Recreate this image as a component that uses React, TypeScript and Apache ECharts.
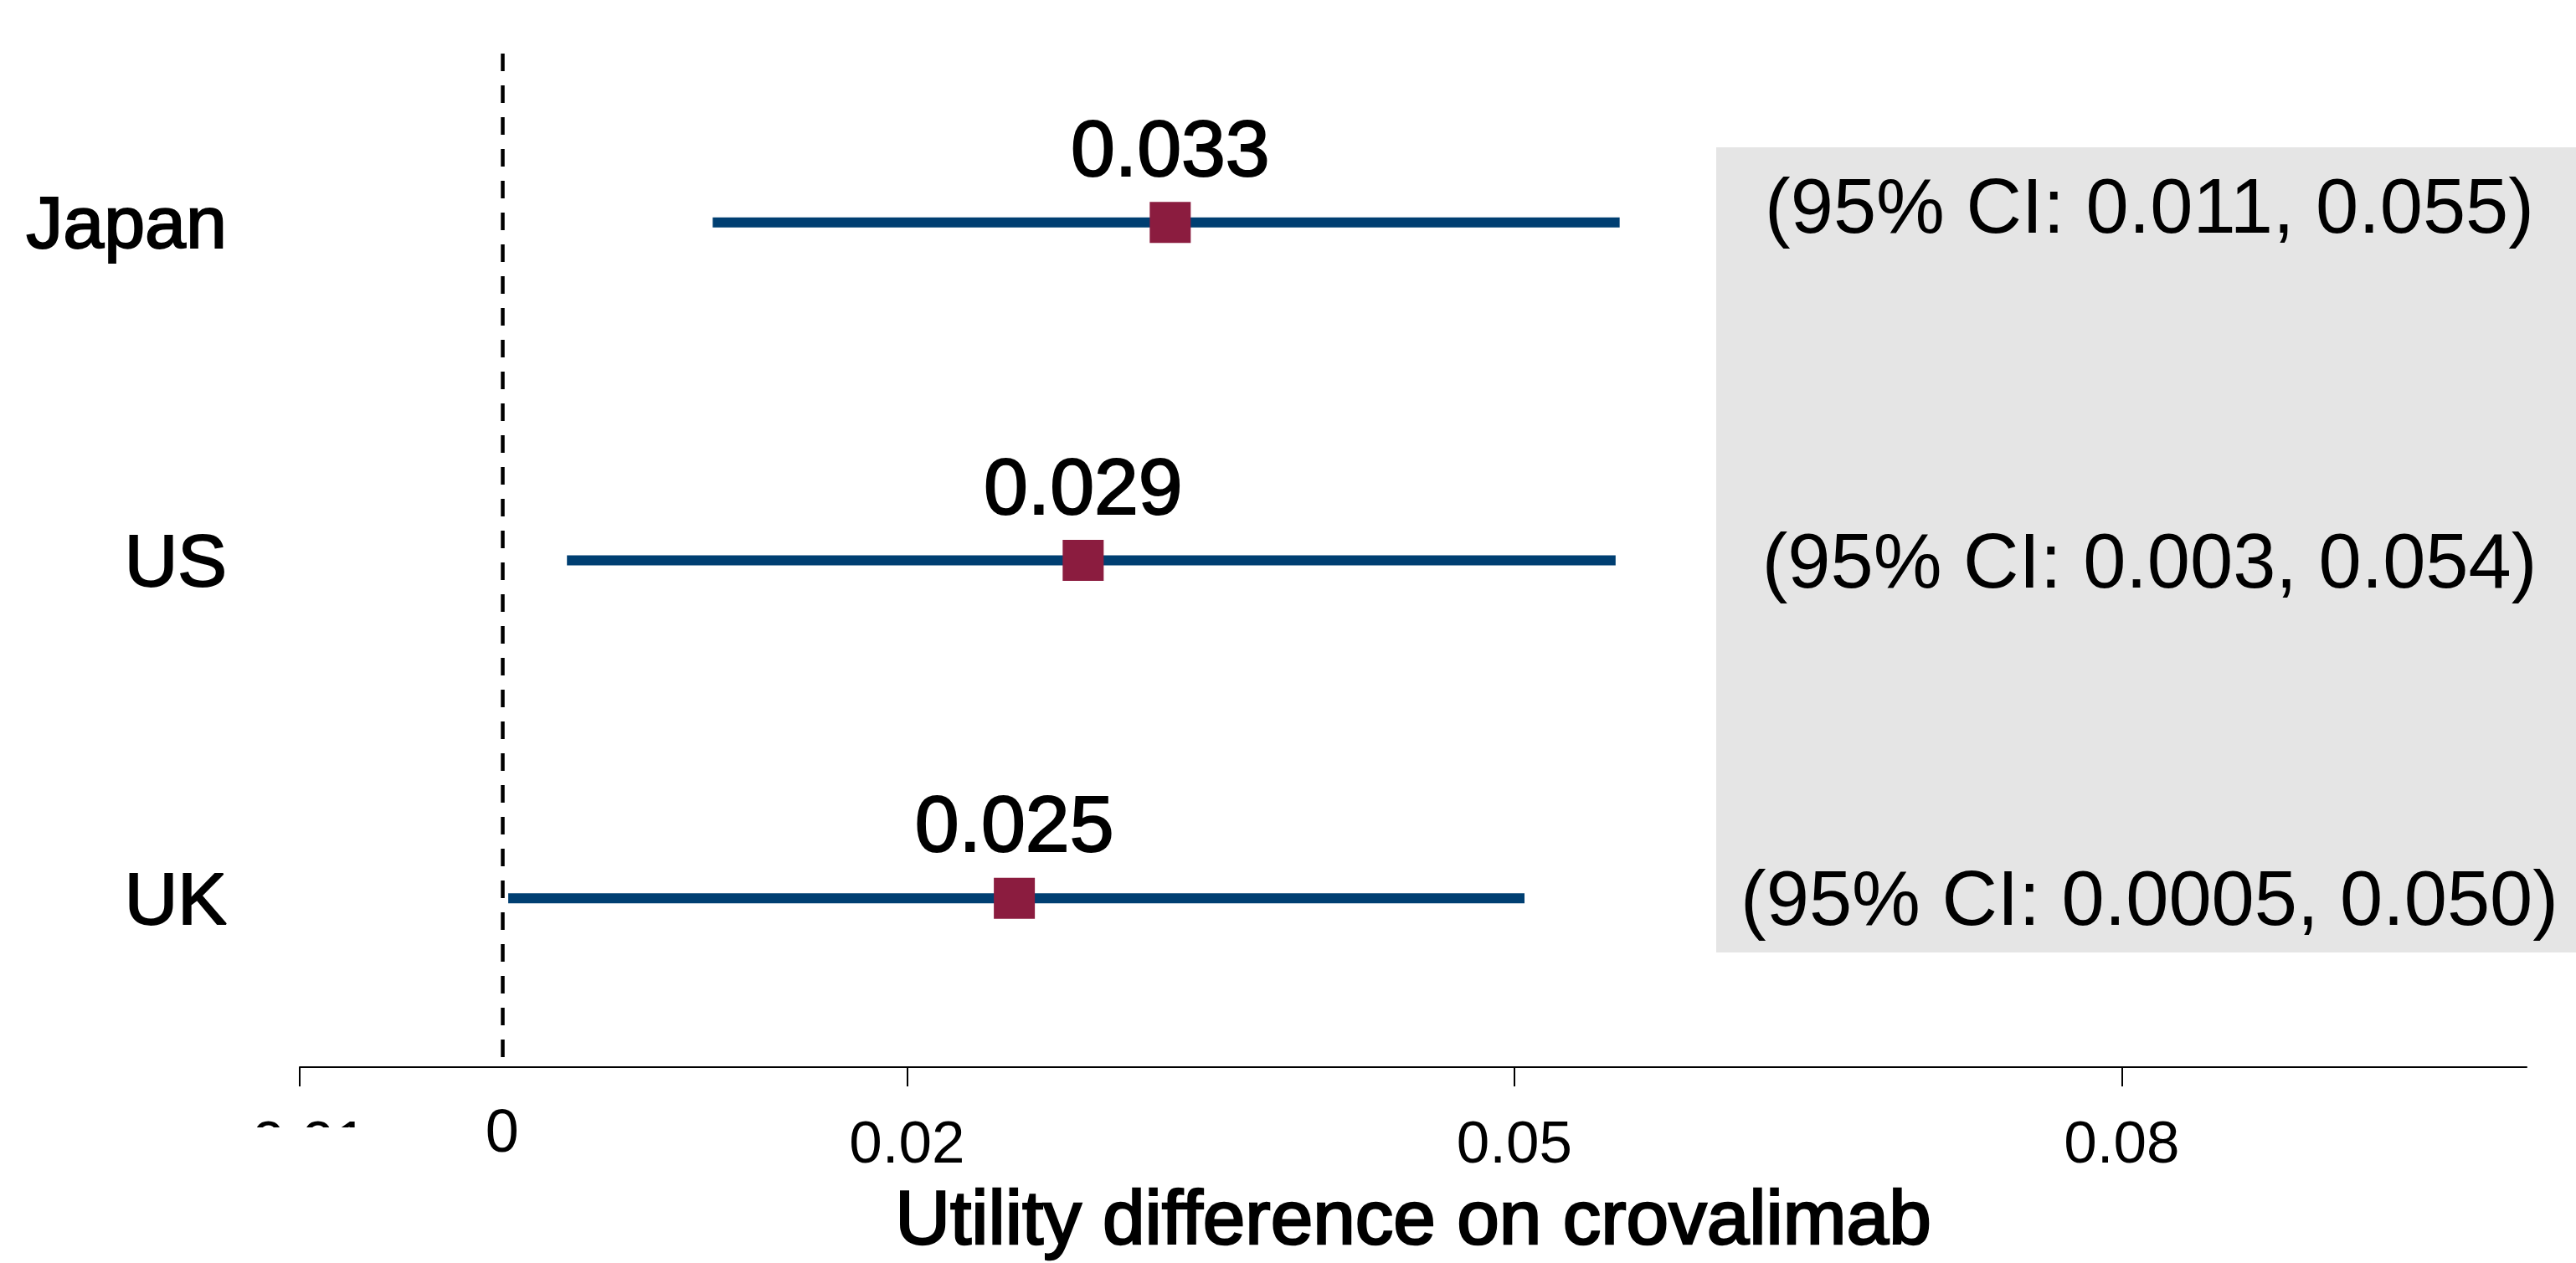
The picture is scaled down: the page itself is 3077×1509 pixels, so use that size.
import React, { useEffect, useRef } from 'react';
import * as echarts from 'echarts';

// ---- data ----
const countries = ['Japan', 'US', 'UK'];
const estimates = [0.033, 0.0287, 0.0253];
const ciLower = [0.0104, 0.0032, 0.0003];
const ciUpper = [0.0552, 0.055, 0.0505];
const ciLowerText = ['0.011', '0.003', '0.0005'];
const ciUpperText = ['0.055', '0.054', '0.050'];
const xTicks = [-0.01, 0.02, 0.05, 0.08];
const xMin = -0.01;
const xMax = 0.1;
const refValue = 0;
const refLabel = '0';
const axisTitle = 'Utility difference on crovalimab';

const FONT = '"Liberation Sans", Arial, Helvetica, sans-serif';
const W = 3077;
const H = 1509;
const GRID = { left: 358, right: 59, top: 64, bottom: 234 };
const AXIS_Y = H - GRID.bottom;

function boxEl() {
  return {
    id: 'ciBox',
    type: 'rect',
    left: 2050,
    top: 176,
    z: 0,
    shape: { width: W - 2050, height: 962 },
    style: { fill: '#E5E5E5' },
    silent: true,
  };
}

function buildOption(): any {
  return {
    animation: false,
    backgroundColor: '#ffffff',
    grid: [
      { ...GRID, outerBoundsMode: 'none', containLabel: false },
      { left: 2050, right: 0, top: GRID.top, bottom: GRID.bottom, outerBoundsMode: 'none', containLabel: false },
    ],
    xAxis: [
      {
        type: 'value',
        gridIndex: 0,
        min: xMin,
        max: xMax,
        axisLine: { show: true, onZero: false, lineStyle: { color: '#000', width: 2 } },
        axisTick: { show: true, customValues: xTicks, length: 23, inside: false, lineStyle: { color: '#000', width: 2 } },
        axisLabel: {
          show: true,
          customValues: xTicks,
          margin: 54,
          fontSize: 71,
          color: '#000',
          fontFamily: FONT,
          hideOverlap: false,
          formatter: (v: number) => String(+v.toFixed(4)),
        },
        splitLine: { show: false },
        name: axisTitle,
        nameLocation: 'middle',
        nameGap: 134,
        nameTextStyle: {
          fontSize: 91,
          color: '#000',
          fontFamily: FONT,
          textBorderColor: '#000',
          textBorderWidth: 2.5,
        },
      },
      { type: 'value', gridIndex: 1, min: 0, max: 1, show: false },
    ],
    yAxis: [
      {
        type: 'category',
        gridIndex: 0,
        data: countries,
        inverse: true,
        axisLine: { show: false },
        axisTick: { show: false },
        splitLine: { show: false },
        axisLabel: {
          margin: 87,
          fontSize: 88,
          color: '#000',
          fontFamily: FONT,
          textBorderColor: '#000',
          textBorderWidth: 2,
        },
      },
      { type: 'category', gridIndex: 1, data: countries, inverse: true, show: false },
    ],
    series: [
      {
        type: 'custom',
        name: 'CI',
        xAxisIndex: 0,
        yAxisIndex: 0,
        z: 3,
        data: countries.map((_, i) => [ciLower[i], ciUpper[i], i]),
        encode: { x: [0, 1], y: 2 },
        renderItem: (params: any, api: any) => {
          const s = api.coord([api.value(0), api.value(2)]);
          const e = api.coord([api.value(1), api.value(2)]);
          return {
            type: 'line',
            shape: { x1: s[0], y1: s[1], x2: e[0], y2: e[1] },
            style: { stroke: '#003F72', lineWidth: 12, lineCap: 'butt' },
          };
        },
      },
      {
        type: 'scatter',
        name: 'Estimate',
        xAxisIndex: 0,
        yAxisIndex: 0,
        z: 4,
        symbol: 'rect',
        symbolSize: 49,
        itemStyle: { color: '#8B1C3F', opacity: 1 },
        data: estimates.map((v, i) => [v, i]),
        label: {
          show: true,
          position: 'top',
          distance: 17,
          fontSize: 95,
          color: '#000',
          fontFamily: FONT,
          textBorderColor: '#000',
          textBorderWidth: 2,
          formatter: (p: any) => p.value[0].toFixed(3),
        },
        markLine: {
          silent: true,
          symbol: ['none', 'none'],
          label: { show: false },
          lineStyle: { color: '#000', width: 4.5, type: [21, 17], opacity: 1 },
          data: [{ xAxis: refValue }],
          z: 2,
        },
      },
      {
        type: 'scatter',
        name: 'CI text',
        xAxisIndex: 1,
        yAxisIndex: 1,
        z: 4,
        symbolSize: 0,
        itemStyle: { color: 'transparent', opacity: 1 },
        data: countries.map((_, i) => ({
          value: [0.5, i],
          label: { offset: i === 0 ? [4, -20] : [4, 0] },
        })),
        label: {
          show: true,
          position: 'inside',
          fontSize: 92,
          color: '#000000',
          opacity: 1,
          textBorderWidth: 0,
          fontFamily: FONT,
          formatter: (p: any) => `(95% CI: ${ciLowerText[p.dataIndex]}, ${ciUpperText[p.dataIndex]})`,
        },
      },
    ],
    graphic: { elements: [boxEl()] },
  };
}

export default function App() {
  const ref = useRef<HTMLDivElement>(null);
  useEffect(() => {
    if (!ref.current) return;
    const chart = echarts.init(ref.current, undefined, { renderer: 'svg', width: W, height: H });
    chart.setOption(buildOption());
    const x0 = chart.convertToPixel({ xAxisIndex: 0 }, refValue) as number;
    const xm = chart.convertToPixel({ xAxisIndex: 0 }, xTicks[0]) as number;
    chart.setOption({
      graphic: {
        elements: [
          boxEl(),
          {
            id: 'labelCover',
            type: 'rect',
            x: xm - 90,
            y: AXIS_Y + 72,
            z: 100,
            shape: { width: 180, height: 70 },
            style: { fill: '#ffffff' },
            silent: true,
          },
          {
            id: 'zeroLabel',
            type: 'text',
            x: x0,
            y: AXIS_Y + 76,
            z: 101,
            style: {
              text: refLabel,
              fontSize: 72,
              fontFamily: FONT,
              fill: '#000',
              align: 'center',
              verticalAlign: 'middle',
            },
            silent: true,
          },
        ],
      },
    });
    return () => chart.dispose();
  }, []);
  return (
    <div
      ref={ref}
      style={{ position: 'fixed', left: 0, top: 0, width: W, height: H, background: '#fff' }}
    />
  );
}
